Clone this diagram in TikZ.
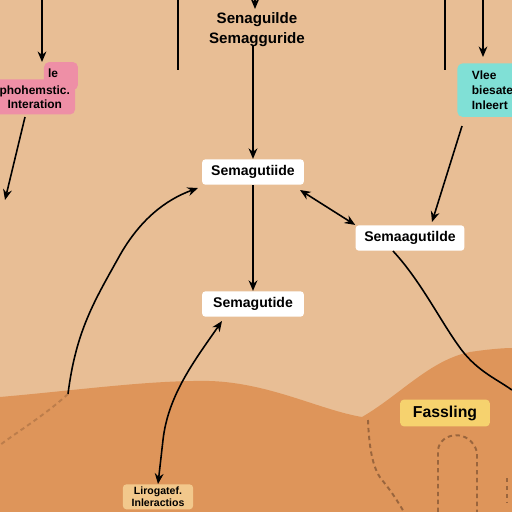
\documentclass[tikz,border=0pt]{standalone}
\usepackage{fontspec}
\setmainfont{Liberation Sans}
\usetikzlibrary{arrows.meta,positioning}
\definecolor{bgTan}{HTML}{E8BE95}
\definecolor{hillOrange}{HTML}{DE955A}
\definecolor{boxPink}{HTML}{EE8FA6}
\definecolor{boxTeal}{HTML}{80E0D6}
\definecolor{boxYellow}{HTML}{F6D26E}
\definecolor{boxPale}{HTML}{F2C88C}
\definecolor{dashBrown}{HTML}{8A5A36}

\begin{document}
\begin{tikzpicture}[
  x=0.02cm, y=-0.02cm,
  >={Stealth[length=6pt,width=5pt]},
  every node/.style={font=\fontsize{8}{9}\selectfont\bfseries},
  label box/.style={fill=white, rounded corners=2pt, minimum width=58pt, minimum height=14.5pt},
  link/.style={line width=0.9pt, black},
  trail/.style={dashBrown, line width=1.1pt, dash pattern=on 2.5pt off 2pt, opacity=0.8},
]
% Background and hill
\fill[bgTan] (0,0) rectangle (512,512);
\useasboundingbox (0,0) rectangle (512,512);
\fill[hillOrange] (0,397) .. controls (80,390) and (150,380) .. (210,381)
  .. controls (270,383) and (320,410) .. (362,417)
  .. controls (400,395) and (430,360) .. (470,352)
  .. controls (490,349) and (505,348) .. (512,348) -- (512,512) -- (0,512) -- cycle;

% Top edge
\coordinate (topL) at (42,0);
\coordinate (topM) at (255,0);
\coordinate (topR) at (483,0);
\draw[link] (178,0) -- (178,70);
\draw[link] (445,0) -- (445,70);
\draw[link,->] (topM) -- (255,9);
\node[font=\fontsize{8.6}{9}\selectfont\bfseries] (title1) at (257,20) {Senaguilde};
\node[font=\fontsize{8.6}{9}\selectfont\bfseries, below=-4pt of title1] (title2) {Semagguride};

% Main labels
\node[label box] (semaA) at (253,172) {Semagutiide};
\node[label box, minimum width=62pt] (semaB) at (410,238) {Semaagutilde};
\node[label box] (semaC) at (253,304) {Semagutide};
\node[fill=boxYellow, rounded corners=2pt, minimum width=51pt, minimum height=12.5pt, font=\fontsize{9}{10}\selectfont\bfseries] (fassling) at (445,413) {Fassling};

% Side boxes
\fill[boxPink, rounded corners=3pt] (44,62) rectangle (78,90);
\node[fill=boxPink, rounded corners=3pt, align=center, minimum width=46pt, minimum height=20pt, anchor=north west, inner xsep=1pt, font=\fontsize{6.8}{7.8}\selectfont\bfseries] (pink) at (-6,79) {phohemstic.\\Interation};
\node[font=\fontsize{6.8}{7.8}\selectfont\bfseries] (pinkTop) at (53,73) {le};
\node[fill=boxTeal, rounded corners=3pt, align=left, anchor=north west, minimum width=40pt, minimum height=30.5pt, inner xsep=3pt, font=\fontsize{6.8}{8.3}\selectfont\bfseries] (teal) at (457,63) {Vlee\\biesate\\Inleert};
\node[fill=boxPale, rounded corners=2pt, align=center, anchor=north, minimum width=40pt, inner ysep=1.5pt, font=\fontsize{6}{6.8}\selectfont\bfseries] (pale) at (158,484) {Lirogatef.\\Inleractios};

% Connectors
\coordinate (pinkIn) at (42,62);
\coordinate (tealIn) at (483,57);
\coordinate (leftEnd) at (5,200);
\coordinate (hillStart) at (68,394);
\coordinate (rightEnd) at (512,390);
\draw[link,->] (topL) -- (pinkIn);
\draw[link,->] (topR) -- (tealIn);
\draw[link,->] (25,117) -- (leftEnd);
\draw[link,->] (253,46) -- (semaA.north);
\draw[link,->] (semaA.south) -- (semaC.north);
\draw[link,<->] (300,190) -- (semaB.north west);
\draw[link,->] (462,126) -- (432,222);
\draw[link,->] (hillStart) .. controls (76,330) and (95,300) .. (120,255)
  .. controls (140,220) and (165,200) .. (198,188);
\draw[link,<->] (222,321) .. controls (195,360) and (168,395) .. (163,440) -- (pale.north);
\draw[link] (393,251) .. controls (420,280) and (440,320) .. (458,345)
  .. controls (475,370) and (495,378) .. (rightEnd);

% Dashed trails in the hill
\draw[trail, opacity=0.4] (hillStart) .. controls (45,415) and (20,430) .. (0,445);
\draw[trail] (368,420) .. controls (369,445) and (372,468) .. (382,480)
  .. controls (392,492) and (398,502) .. (404,512);
\draw[trail] (438,512) -- (438,450) .. controls (440,432) and (470,428) .. (477,452) -- (477,512);
\draw[trail] (507,478) -- (507,502);
\end{tikzpicture}
\end{document}
